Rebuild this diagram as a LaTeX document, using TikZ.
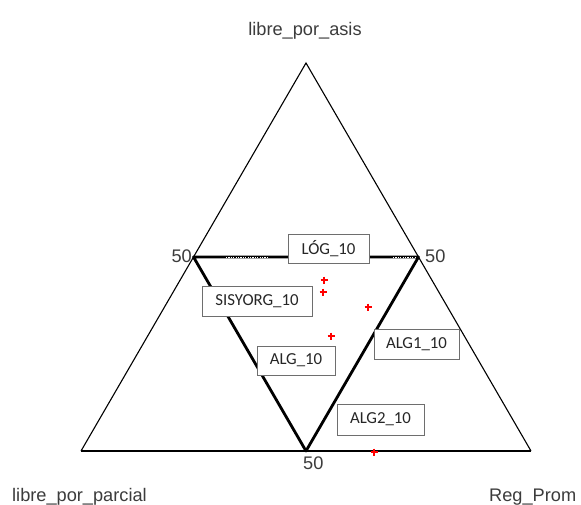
\documentclass[tikz,border=0pt]{standalone}
\usepackage{fontspec}
\setmainfont{Liberation Sans}
\newfontfamily\boxfont{Carlito}
\definecolor{txtgray}{HTML}{3C3C3C}
\definecolor{boxline}{HTML}{6E6E6E}
\definecolor{boxtxt}{HTML}{262626}
\begin{document}
\begin{tikzpicture}[x=1pt,y=-1pt,
  axislab/.style={font=\fontsize{18.2}{20}\selectfont, text=txtgray, inner sep=0pt},
  ticklab/.style={font=\fontsize{18.2}{20}\selectfont, text=txtgray, inner sep=0pt},
  lblbox/.style={draw=boxline, line width=0.9pt, fill=white, inner sep=0pt,
    font=\boxfont\fontsize{16.8}{18}\selectfont, text=boxtxt},
  thinedge/.style={line width=1.1pt, black},
  thickedge/.style={line width=2.8pt, black, line cap=round, line join=round},
  redplus/.style={draw=red, line width=1.6pt}
]
\useasboundingbox[fill=white] (0,0) rectangle (581,505);

% vertices
\coordinate (A) at (306,63);
\coordinate (L) at (81,451);
\coordinate (R) at (531,451);
\coordinate (ML) at (193.5,257);
\coordinate (MR) at (418.5,257);
\coordinate (MB) at (306,451);

% outer triangle
\draw[thinedge] (L) -- (A) -- (R);
\draw[line width=1.8pt] (L) -- (R);

% inner triangle
\draw[thickedge] (ML) -- (MR) -- (MB) -- cycle;
\draw[white, line width=0.7pt, dash pattern=on 1.2pt off 1.2pt] (226,257) -- (268,257);
\draw[white, line width=0.7pt, dash pattern=on 1.2pt off 1.2pt] (393,257) -- (415,257);

% tick labels
\node[ticklab, anchor=east] (t1) at (192,256.5) {50};
\node[ticklab, anchor=west] (t2) at (425,256.5) {50};
\node[ticklab, anchor=north west] (t3) at (303,457) {50};

% axis labels
\node[axislab, anchor=base] (ax1) at (305,36) {libre\_por\_asis};
\node[axislab, anchor=base west] (ax2) at (12,501) {libre\_por\_parcial};
\node[axislab, anchor=base west] (ax3) at (489,501) {Reg\_Prom};

% label boxes
\node[lblbox, minimum width=81pt, minimum height=29pt] (b1) at (328.5,248.5) {LÓG\_10};
\node[lblbox, minimum width=110pt, minimum height=30pt] (b2) at (257,301) {SISYORG\_10};
\node[lblbox, minimum width=78pt, minimum height=29pt] (b3) at (296,360.5) {ALG\_10};
\node[lblbox, minimum width=85pt, minimum height=30pt] (b4) at (416.5,344) {ALG1\_10};
\node[lblbox, minimum width=87pt, minimum height=31pt] (b5) at (380.5,419.5) {ALG2\_10};

% data points
\foreach \px/\py in {324/280, 323/292, 368/307, 331/336, 374/452}{
  \draw[redplus] (\px-3.5,\py) -- (\px+3.5,\py);
  \draw[redplus] (\px,\py-3.5) -- (\px,\py+3.5);
}
\end{tikzpicture}
\end{document}
